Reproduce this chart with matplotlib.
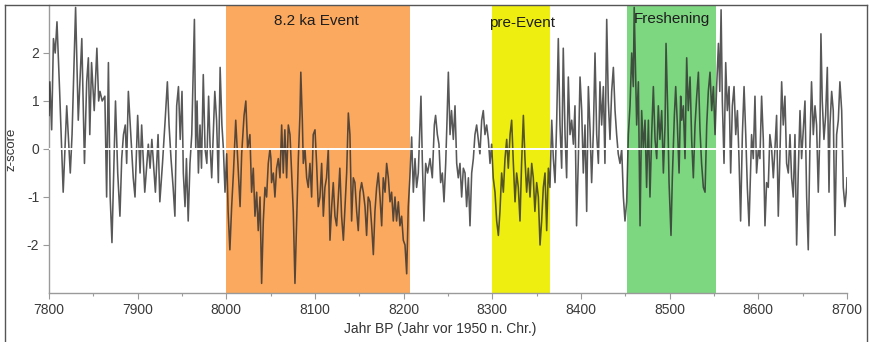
import numpy as np
import matplotlib
matplotlib.use("Agg")
import matplotlib.pyplot as plt
from matplotlib.lines import Line2D
from matplotlib.ticker import MultipleLocator

plt.rcParams["font.family"] = ["Liberation Sans", "DejaVu Sans"]
plt.rcParams["axes.unicode_minus"] = False

# Jahr BP (segment by segment)
year = [
    7800, 7801, 7803, 7805, 7807, 7809, 7812, 7816, 7820, 7824,
    7826, 7830, 7833, 7837, 7840, 7842.5, 7844.4, 7846, 7848, 7851,
    7854, 7856, 7857.5, 7860, 7863, 7865, 7867, 7869, 7871, 7873,
    7875, 7877.5, 7880, 7882, 7884, 7886, 7887.6, 7889.5, 7892.5, 7895,
    7897, 7900, 7902.7, 7904.5, 7908,
    7912, 7914, 7916, 7920, 7923, 7925, 7928, 7931, 7933.5, 7935.4,
    7937.6, 7940, 7942, 7944, 7946, 7948, 7950, 7951.5, 7953.4, 7955,
    7957, 7959, 7961, 7964, 7965.5, 7967, 7968.5, 7970.3, 7972, 7974,
    7976, 7978, 7980, 7981.6, 7983.5, 7985.4, 7987, 7989, 7991, 7993,
    7995, 7996.7, 7998.5, 8000.4, 8002, 8004, 8006, 8008, 8010.6, 8013,
    8015.5, 8017.3, 8020, 8022, 8024,
    8026.6, 8028.5, 8030.4, 8032.3, 8034.2, 8036, 8038, 8039.8, 8041.7, 8043.6,
    8045.4, 8047.3, 8049.2, 8050.3, 8051, 8053, 8054.8, 8056.7, 8058.6, 8060.5,
    8062.4, 8064.2, 8066, 8068, 8069.9, 8071.8, 8073.6, 8075.5, 8077.4, 8079.3,
    8081.2, 8083, 8084, 8085.7, 8086.8, 8088.7, 8090.6, 8092.4, 8094.3, 8096.2,
    8098, 8100, 8101.8, 8103.7, 8105.6, 8107.5, 8109.4, 8111.2, 8113, 8115,
    8116.9, 8118.8, 8120.6, 8122.5, 8124.4, 8126.3, 8128, 8130, 8132, 8133.8,
    8135.7, 8137.6, 8139.4,
    8141.3, 8143.2, 8145, 8147, 8148.8, 8150.7, 8152.6, 8154.5, 8156.4, 8158.2,
    8160, 8162, 8163.9, 8165.8, 8167.6, 8169.5, 8171.4, 8173.3, 8175.2, 8177,
    8179, 8180.8, 8182.7, 8184.6, 8186.4, 8188.3, 8190.2, 8192, 8194, 8195.8,
    8197.7, 8199.6, 8201.5, 8203.4, 8205.2, 8207, 8209, 8210.9, 8212.8, 8214.6,
    8216.5, 8218.4, 8219.5, 8221, 8222.9, 8224.8, 8227, 8229.7, 8232.3, 8234.6,
    8236, 8238, 8239.8, 8241.7, 8243.6, 8245.5, 8247.4, 8248.9, 8250.4, 8252.3,
    8254, 8256, 8257.9, 8259.8, 8261.6, 8263.5, 8265.4, 8267.3, 8269.2, 8271,
    8273, 8274.8, 8276.7, 8278.6, 8280.4, 8282.3, 8284.2, 8286, 8288, 8289.8,
    8291.7, 8293.6, 8295.5, 8297.4, 8299.2, 8301, 8303, 8304.9, 8306.8, 8308.6,
    8310.5, 8312.4, 8314.3, 8316.2, 8318, 8320, 8321.8, 8323.7, 8325.6, 8327.4,
    8329.3, 8331.2, 8333, 8335, 8336.8, 8338.7, 8340.6, 8342.5, 8344.4, 8346.2,
    8348, 8350, 8351.9, 8353.8, 8355.6, 8357.5, 8359.4, 8361.3, 8363.2, 8365,
    8367, 8368.8, 8370.7, 8372.6, 8374.4, 8376.3, 8378.2, 8380, 8382, 8383.8,
    8385.7, 8387.6, 8389.5, 8391.4, 8393.2, 8395, 8397, 8398.9, 8400.8, 8402.6,
    8404.5, 8406.4, 8408.3, 8410.2, 8412, 8414, 8415.8, 8417.7, 8419.6, 8421.4,
    8423.3, 8425.2, 8427, 8429, 8430.8, 8432.7, 8434.6, 8436.5, 8438.4, 8440.2,
    8442, 8444, 8445.9, 8447.8, 8449.6, 8451.5, 8453.4, 8455.3, 8457.2, 8459,
    8460, 8462.8, 8464.7, 8466.6, 8468.4, 8470.3, 8472.2, 8474, 8476, 8477.8,
    8479.7, 8481.6, 8483.5, 8485.4, 8487.2, 8489, 8491, 8492.9, 8494.8, 8495.9,
    8497.8, 8499.3, 8501.5, 8503, 8505.3, 8506.8, 8508.7, 8510.6, 8512.4, 8513.6,
    8515.4, 8517.3, 8519.2, 8521, 8523, 8524.8, 8526.7, 8528.6, 8530.5, 8532.4,
    8534.2, 8536, 8538, 8539.9, 8541.8, 8543.6, 8545.5, 8547.4, 8549.3, 8551.2,
    8553, 8555, 8556.5, 8558, 8559.4, 8561.3, 8563.2, 8565, 8567, 8568.8,
    8570.7, 8572.6, 8574.5, 8576.4, 8578.2, 8580, 8582, 8583.9, 8585.8, 8587.6,
    8589.5,
    8592.4, 8594.3, 8596.2, 8598, 8600, 8601.8, 8603.7, 8605.6, 8607.5, 8609.3,
    8611.2, 8613, 8615, 8616.9, 8618.7, 8620.6, 8622.5, 8624.4, 8626.3, 8628.1,
    8630, 8631.9, 8633.8, 8635.7, 8637.5, 8639.4, 8641.3, 8643.2, 8645, 8647,
    8648.8, 8650.7, 8652.6, 8654.5, 8656.3, 8658.2, 8660, 8662, 8663.9, 8665.7,
    8667.6, 8669.5, 8670.6, 8672.1, 8674, 8675.9, 8677.8, 8679.7, 8680.8, 8682.7,
    8684.5, 8686.4, 8688.3, 8690.2, 8692, 8694, 8695.8, 8697.7, 8699.6, 8700,
]

zscore = [
    0.7, 1.4, 0.4, 2.3, 2.0, 2.65, 1.2, -0.9, 0.9, -0.5,
    0.3, 2.95, 0.6, 2.3, -0.3, 1.4, 1.9, 0.3, 1.8, 0.8,
    2.1, 1.0, 1.2, 1.0, 1.1, -1.0, 1.8, -1.0, -1.95, -0.5,
    1.0, -0.5, -1.4, -0.2, 0.3, 0.5, -0.3, 1.2, 0.2, -0.6,
    -1.0, 0.7, -0.5, 0.5, -0.9,
    0.1, -0.4, 0.2, -0.9, 0.3, -1.1, -0.3, 0.6, 1.4, 0.5,
    -0.2, -0.8, -1.4, 0.9, 1.3, 0.2, 1.2, -0.5, -1.2, -0.2,
    -1.5, -0.3, 0.3, 2.7, 0.0, 1.0, -0.5, 0.5, -0.4, 1.55,
    0.0, -0.3, 1.1, 0.1, -0.6, 0.4, 1.2, 0.6, -0.7, 1.7,
    0.5, 0.0, -0.9, -0.1, -1.3, -2.1, -1.2, -0.5, 0.6, -0.3,
    -1.2, -0.1, 0.7, 1.0, 0.0,
    0.3, -0.9, -0.4, -1.4, -0.9, -1.7, -1.0, -2.8, -1.5, -0.8,
    -1.0, -0.3, 0.0, -0.2, -0.7, -0.5, -1.0, -0.4, -0.2, -0.6,
    0.5, -0.5, 0.4, -0.6, 0.5, 0.3, -0.5, -1.3, -2.8, -1.5,
    -0.2, 0.7, 1.6, 0.6, -0.3, 0.0, -0.6, -0.8, -0.3, -1.0,
    0.3, 0.4, -0.3, -1.2, -1.0, -0.3, -1.4, -0.8, -0.6, 0.0,
    -1.9, -1.2, -0.7, -1.4, -1.6, -1.0, -0.4, -1.4, -1.9, -1.2,
    -0.5, 0.75, 0.3,
    -1.5, -0.6, -0.7, -1.3, -1.7, -0.9, -0.7, -0.9, -1.2, -1.8,
    -1.0, -1.1, -1.6, -2.2, -1.3, -0.8, -0.5, -1.0, -1.6, -0.6,
    -0.9, -0.3, -0.6, -1.1, -0.9, -1.5, -1.0, -1.5, -1.1, -1.6,
    -1.4, -1.9, -2.0, -2.6, -1.2, -0.6, 0.25, -0.9, -0.2, -0.8,
    -0.5, 0.5, 1.1, -0.2, -1.5, -0.3, -0.5, -0.2, -0.6, 0.5,
    0.7, 0.3, 0.1, -0.7, -0.5, -1.1, -0.3, 0.6, 1.6, 0.3,
    0.8, 0.2, 0.9, -0.3, -0.6, -0.3, -1.0, -0.4, -0.5, -1.2,
    -0.6, -1.6, -0.5, -0.2, 0.3, 0.5, 0.2, -0.1, 0.6, 0.8,
    0.3, 0.5, 0.2, -0.3, 0.1, -0.6, -0.9, -1.5, -1.8, -1.3,
    -0.5, -0.9, -0.2, 0.2, -0.4, 0.3, 0.6, -0.3, -1.1, -0.5,
    -0.8, -1.5, -0.3, 0.7, -0.2, -0.9, -0.4, -1.0, -0.3, -0.6,
    -1.3, -0.7, -1.0, -2.0, -1.5, -0.8, -0.5, -1.7, -0.4, -0.8,
    0.6, -0.2, -0.7, 0.6, 2.3, 0.5, -0.4, 2.1, 0.3, -0.6,
    1.5, 0.3, 0.6, 0.1, 0.9, -1.6, -0.2, 1.5, 0.8, -0.5,
    0.5, -1.3, 1.3, 0.4, -0.7, 0.4, 2.0, 0.3, -0.3, 1.4,
    0.5, 1.3, -0.3, 2.7, 1.0, 0.2, 1.2, 1.7, 0.8, 0.3,
    -0.1, -0.3, 0.0, -1.0, -1.5, -1.1, 0.3, 0.9, 2.0, 1.3,
    2.95, 0.5, 1.4, -1.6, 0.8, 0.0, 0.6, -0.8, 0.6, -1.0,
    0.3, 1.3, 0.2, -0.2, 0.9, 0.2, 0.8, -0.5, 0.5, 2.2,
    0.8, -0.7, -1.8, -0.6, 0.7, 1.3, 0.5, -0.5, 1.1, 0.6,
    0.9, -0.2, 1.9, 0.8, 1.5, 0.2, -0.6, 0.5, 1.1, 1.6,
    0.4, -0.3, -0.8, -0.9, 0.5, 1.2, 1.6, 0.8, 1.3, 0.3,
    1.3, 2.2, 1.2, 2.9, 1.0, -0.3, 1.8, 0.8, 1.3, -0.5,
    0.9, 1.3, 0.3, 0.8, -0.2, -1.5, 0.3, 1.3, 0.3, -0.8,
    -1.6,
    0.3, -0.2, 1.1, -0.5, 0.0, -0.2, 1.1, 0.2, -1.6, -0.7,
    -0.8, 0.3, 0.0, -0.6, 0.0, 0.7, -1.4, -0.1, 1.4, 0.5,
    1.1, -0.3, -0.5, 0.3, -0.6, -1.0, 0.3, -2.0, -0.5, 0.8,
    -0.2, 0.4, 1.0, -1.0, -2.1, 0.1, 1.4, 0.3, 0.9, 0.5,
    -0.9, 0.4, 2.4, 1.0, 0.2, 0.7, 1.7, -0.9, 0.5, 1.2,
    0.8, -1.8, 0.3, 0.6, 1.4, 0.8, -0.8, -1.2, -0.8, -0.6,
]

# shaded phases
phase_names = ["8.2 ka Event", "pre-Event", "Freshening"]
phase_start = [8000, 8300, 8452]
phase_end = [8207, 8365, 8552]
phase_colors = ["#fba95e", "#eeee10", "#7dd680"]
label_x = [8102, 8334, 8503]
label_y = [2.66, 2.62, 2.7]


def main():
    assert len(year) == len(zscore)
    fig = plt.figure(figsize=(8.7, 3.42), dpi=100)
    ax = fig.add_axes([49 / 870, 1 - 293 / 342, 798 / 870, 288 / 342])

    for x0, x1, c in zip(phase_start, phase_end, phase_colors):
        ax.axvspan(x0, x1, color=c, lw=0, zorder=1)

    ax.plot(year, zscore, color="#2e2e2e", lw=1.15, alpha=0.8, zorder=3)
    ax.axhline(0, color="white", lw=1.4, zorder=5)

    for name, tx, ty in zip(phase_names, label_x, label_y):
        ax.text(tx, ty, name, ha="center", va="center", fontsize=11,
                color="#1e1e1e", zorder=6)

    ax.set_xlim(7800, 8700)
    ax.set_ylim(-3, 3)
    ax.xaxis.set_major_locator(MultipleLocator(100))
    ax.xaxis.set_minor_locator(MultipleLocator(50))
    ax.set_yticks([-2, -1, 0, 1, 2])

    for s in ["top", "right"]:
        ax.spines[s].set_visible(False)
    for s in ["left", "bottom"]:
        ax.spines[s].set_color("#9a9a9a")
        ax.spines[s].set_linewidth(1.0)

    ax.tick_params(which="major", length=4, width=0.8, color="#9a9a9a",
                   labelsize=10, labelcolor="#3a3a3a", pad=3)
    ax.tick_params(which="minor", length=2.5, width=0.8, color="#9a9a9a")

    ax.set_xlabel("Jahr BP (Jahr vor 1950 n. Chr.)", fontsize=10, color="#333333")
    ax.set_ylabel("z-score", fontsize=9.5, color="#333333")
    ax.xaxis.set_label_coords(0.49, -0.1)
    ax.yaxis.set_label_coords(-0.04, 0.5)

    # frame around the whole figure
    for xs, ys in [([5 / 870, 867 / 870], [1 - 5 / 342] * 2),
                   ([5 / 870] * 2, [0, 1 - 5 / 342]),
                   ([867 / 870] * 2, [0, 1 - 5 / 342])]:
        fig.add_artist(Line2D(xs, ys, color="#555555", lw=1.0))

    fig.savefig("out.png", dpi=100)


if __name__ == "__main__":
    main()
